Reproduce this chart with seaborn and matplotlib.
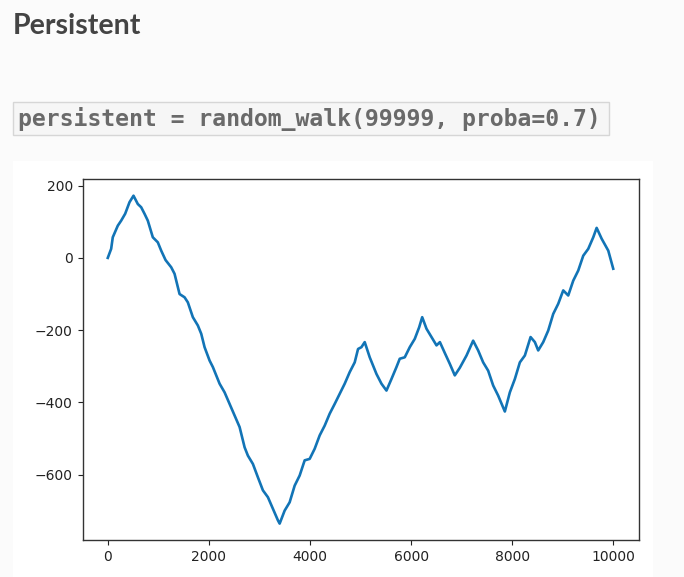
import matplotlib
matplotlib.use("Agg")
import matplotlib.pyplot as plt
from matplotlib.patches import Rectangle
import seaborn as sns
import pandas as pd

# Walk position sampled along the 10k steps
steps = [0, 67, 99, 198, 265, 344, 430, 509, 594, 661, 727, 792, 891, 990, 1057,
         1143, 1255, 1321, 1420, 1519, 1584, 1683, 1782, 1849, 1915, 2014, 2079,
         2212, 2311, 2410, 2509, 2608, 2707, 2772, 2871, 2970, 3069, 3168, 3267,
         3366, 3400, 3499, 3598, 3697, 3796, 3895, 3994, 4093, 4192, 4291, 4390,
         4489, 4588, 4687, 4786, 4885, 4951, 5018, 5083, 5182, 5315, 5414, 5513,
         5612, 5711, 5776, 5875, 5974, 6073, 6160, 6220, 6305, 6404, 6503, 6570,
         6667, 6766, 6865, 6964, 7097, 7228, 7327, 7426, 7525, 7624, 7723, 7855,
         7954, 8053, 8152, 8251, 8364, 8449, 8515, 8614, 8713, 8812, 8911, 9010,
         9109, 9208, 9307, 9406, 9505, 9604, 9671, 9770, 9901, 9999]
position = [0, 25, 57, 89, 103, 122, 154, 172, 149, 140, 122, 103, 57, 43, 20,
            -6, -26, -44, -100, -109, -123, -164, -187, -210, -247, -284, -302,
            -348, -372, -404, -436, -468, -524, -547, -570, -607, -643, -662, -694,
            -726, -735, -699, -676, -630, -602, -560, -556, -528, -491, -464, -431,
            -404, -376, -348, -316, -289, -252, -247, -233, -275, -321, -348, -367,
            -335, -302, -279, -275, -247, -224, -192, -164, -196, -219, -242, -233,
            -263, -293, -325, -304, -270, -229, -256, -289, -312, -353, -381, -425,
            -372, -335, -289, -270, -219, -233, -256, -233, -201, -155, -127, -90,
            -104, -63, -35, 6, 25, 57, 83, 53, 20, -30]

title_text = "Persistent"
code_text = "persistent = random_walk(99999, proba=0.7)"

W, H = 684, 577
fig = plt.figure(figsize=(W / 100, H / 100), dpi=100)
fig.patch.set_facecolor("#fbfbfb")


def fx(px):
    return px / W


def fy(py):
    return 1 - py / H


# white output panel behind the plot
fig.patches.append(Rectangle((fx(13), 0), fx(653) - fx(13), fy(161),
                             transform=fig.transFigure, facecolor="white",
                             edgecolor="none", zorder=-2))
# code cell box
fig.patches.append(Rectangle((fx(13), fy(135)), fx(609) - fx(13), fy(102) - fy(135),
                             transform=fig.transFigure, facecolor="#f6f6f6",
                             edgecolor="#d6d6d6", linewidth=1.0, zorder=-2))

fig.text(fx(13), fy(26), title_text, fontsize=20.6, fontweight="bold",
         family=["Lato", "DejaVu Sans"], color="#444444", va="center", ha="left")
fig.text(fx(18), fy(119), code_text, fontsize=16.7, fontweight="bold",
         family=["DejaVu Sans Mono"], color="#6a6a6a", va="center", ha="left")

ax = fig.add_axes([fx(82.5), fy(540), fx(638.5) - fx(82.5), fy(179.3) - fy(540)])
ax.set_zorder(1)
df = pd.DataFrame({"step": steps, "position": position})
sns.lineplot(data=df, x="step", y="position", ax=ax, color="#1274b6",
             linewidth=1.9, estimator=None, sort=False)
ax.set_xlabel("")
ax.set_ylabel("")
ax.set_xticks([0, 2000, 4000, 6000, 8000, 10000])
ax.set_yticks([200, 0, -200, -400, -600])
ax.tick_params(labelsize=10, colors="#222222")
for s in ax.spines.values():
    s.set_color("#333333")
    s.set_linewidth(1.0)

fig.savefig("out.png", dpi=100, facecolor=fig.get_facecolor())
